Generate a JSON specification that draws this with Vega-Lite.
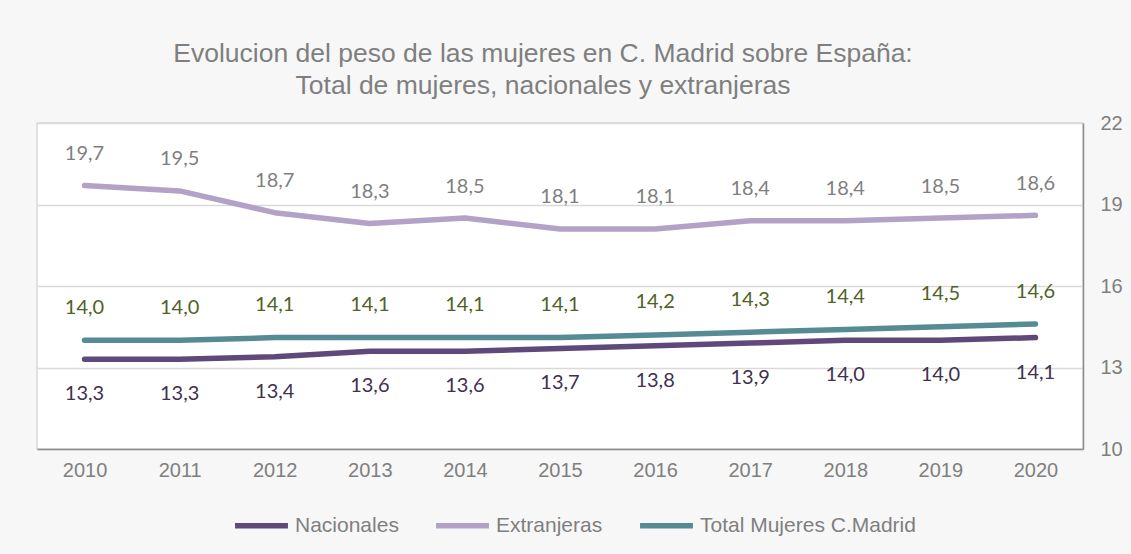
{
  "$schema": "https://vega.github.io/schema/vega-lite/v6.json",
  "width": 1046,
  "height": 326,
  "autosize": {"type": "none"},
  "padding": {"left": 37, "top": 123, "right": 48, "bottom": 105},
  "background": "#f7f7f7",
  "title": {
    "text": ["Evolucion del peso de las mujeres en C. Madrid sobre España:", "Total de mujeres, nacionales y extranjeras"],
    "anchor": "middle",
    "frame": "group",
    "dx": -17,
    "offset": 14,
    "font": "Liberation Sans",
    "fontSize": 26.5,
    "fontWeight": "normal",
    "color": "#7f7f7f",
    "lineHeight": 32
  },
  "data": {
    "values": [
      {"year": "2010", "serie": "Nacionales", "value": 13.3},
      {"year": "2011", "serie": "Nacionales", "value": 13.3},
      {"year": "2012", "serie": "Nacionales", "value": 13.4},
      {"year": "2013", "serie": "Nacionales", "value": 13.6},
      {"year": "2014", "serie": "Nacionales", "value": 13.6},
      {"year": "2015", "serie": "Nacionales", "value": 13.7},
      {"year": "2016", "serie": "Nacionales", "value": 13.8},
      {"year": "2017", "serie": "Nacionales", "value": 13.9},
      {"year": "2018", "serie": "Nacionales", "value": 14.0},
      {"year": "2019", "serie": "Nacionales", "value": 14.0},
      {"year": "2020", "serie": "Nacionales", "value": 14.1},
      {"year": "2010", "serie": "Extranjeras", "value": 19.7},
      {"year": "2011", "serie": "Extranjeras", "value": 19.5},
      {"year": "2012", "serie": "Extranjeras", "value": 18.7},
      {"year": "2013", "serie": "Extranjeras", "value": 18.3},
      {"year": "2014", "serie": "Extranjeras", "value": 18.5},
      {"year": "2015", "serie": "Extranjeras", "value": 18.1},
      {"year": "2016", "serie": "Extranjeras", "value": 18.1},
      {"year": "2017", "serie": "Extranjeras", "value": 18.4},
      {"year": "2018", "serie": "Extranjeras", "value": 18.4},
      {"year": "2019", "serie": "Extranjeras", "value": 18.5},
      {"year": "2020", "serie": "Extranjeras", "value": 18.6},
      {"year": "2010", "serie": "Total Mujeres C.Madrid", "value": 14.0},
      {"year": "2011", "serie": "Total Mujeres C.Madrid", "value": 14.0},
      {"year": "2012", "serie": "Total Mujeres C.Madrid", "value": 14.1},
      {"year": "2013", "serie": "Total Mujeres C.Madrid", "value": 14.1},
      {"year": "2014", "serie": "Total Mujeres C.Madrid", "value": 14.1},
      {"year": "2015", "serie": "Total Mujeres C.Madrid", "value": 14.1},
      {"year": "2016", "serie": "Total Mujeres C.Madrid", "value": 14.2},
      {"year": "2017", "serie": "Total Mujeres C.Madrid", "value": 14.3},
      {"year": "2018", "serie": "Total Mujeres C.Madrid", "value": 14.4},
      {"year": "2019", "serie": "Total Mujeres C.Madrid", "value": 14.5},
      {"year": "2020", "serie": "Total Mujeres C.Madrid", "value": 14.6}
    ]
  },
  "encoding": {
    "x": {
      "field": "year",
      "type": "ordinal",
      "scale": {"type": "point", "padding": 0.5},
      "axis": {
        "title": null,
        "labelAngle": 0,
        "ticks": false,
        "domain": true,
        "domainColor": "#8c8c8c",
        "domainWidth": 1.5,
        "labelFont": "Liberation Sans",
        "labelFontSize": 20,
        "labelColor": "#7f7f7f",
        "labelPadding": 11,
        "grid": false
      }
    },
    "y": {
      "field": "value",
      "type": "quantitative",
      "scale": {"domain": [10, 22], "nice": false, "zero": false},
      "axis": {
        "orient": "right",
        "title": null,
        "values": [10, 13, 16, 19, 22],
        "ticks": false,
        "domain": true,
        "domainColor": "#8c8c8c",
        "domainWidth": 1.5,
        "grid": true,
        "gridColor": "#d9d9d9",
        "gridWidth": 1.5,
        "labelFont": "Liberation Sans",
        "labelFontSize": 20,
        "labelColor": "#7f7f7f",
        "labelPadding": 17,
        "labelAlign": "left"
      }
    }
  },
  "layer": [
    {
      "mark": {"type": "line", "strokeWidth": 5.5, "strokeCap": "round", "strokeJoin": "round"},
      "encoding": {
        "color": {
          "field": "serie",
          "type": "nominal",
          "scale": {
            "domain": ["Nacionales", "Extranjeras", "Total Mujeres C.Madrid"],
            "range": ["#5f497a", "#b3a2c7", "#558b94"]
          },
          "legend": {
            "title": null,
            "orient": "none",
            "direction": "horizontal",
            "legendX": 195,
            "legendY": 373,
            "padding": 0,
            "symbolType": "stroke",
            "symbolSize": 2800,
            "symbolStrokeWidth": 5.5,
            "labelFont": "Liberation Sans",
            "labelFontSize": 21,
            "labelColor": "#7f7f7f",
            "labelOffset": 4,
            "labelLimit": 0,
            "columnPadding": 26
          }
        }
      }
    },
    {
      "transform": [{"filter": "datum.serie === 'Extranjeras'"}],
      "mark": {"type": "text", "dy": -31.5, "font": "Lato", "fontSize": 20, "color": "#7f7f7f", "baseline": "middle"},
      "encoding": {"text": {"field": "value", "type": "quantitative", "format": ".1f"}}
    },
    {
      "transform": [{"filter": "datum.serie === 'Total Mujeres C.Madrid'"}],
      "mark": {"type": "text", "dy": -32.5, "font": "Lato", "fontSize": 20, "color": "#4f6228", "baseline": "middle"},
      "encoding": {"text": {"field": "value", "type": "quantitative", "format": ".1f"}}
    },
    {
      "transform": [{"filter": "datum.serie === 'Nacionales'"}],
      "mark": {"type": "text", "dy": 35, "font": "Lato", "fontSize": 20, "color": "#3f3151", "baseline": "middle"},
      "encoding": {"text": {"field": "value", "type": "quantitative", "format": ".1f"}}
    }
  ],
  "config": {
    "locale": {
      "number": {"decimal": ",", "thousands": ".", "grouping": [3], "currency": ["", " €"]}
    },
    "view": {"fill": "#ffffff", "stroke": "#d9d9d9", "strokeWidth": 1.5}
  }
}
